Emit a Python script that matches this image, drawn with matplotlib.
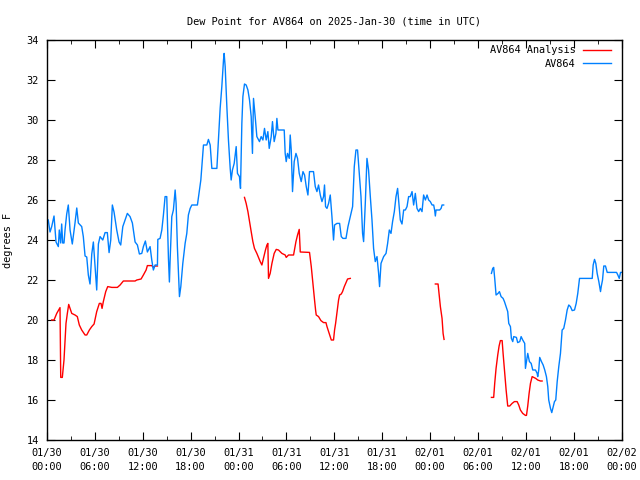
import numpy as np
import matplotlib
matplotlib.use("Agg")
import matplotlib.pyplot as plt

nan = np.nan

# hours since 2025-01-30 00:00 UTC
obs_hours = [
    0.16, 0.38, 0.59, 0.88, 1.13, 1.42, 1.54, 1.72, 1.84, 1.97, 2.13, 2.26, 2.47, 2.67, 2.89,
    3.17, 3.51, 3.73, 3.93, 4.35, 4.55, 4.77, 4.98, 5.18, 5.39, 5.61, 5.81, 6.02, 6.23, 6.44,
    6.65, 6.99, 7.28, 7.56, 7.78, 7.99, 8.19, 8.40, 8.74, 9.03, 9.24, 9.50, 9.78, 10.07, 10.41,
    10.70, 11.04, 11.33, 11.58, 11.88, 12.08, 12.33, 12.58, 12.92, 13.13, 13.33, 13.55, 13.84,
    13.89, 14.17, 14.39, 14.59, 14.80, 15.01, 15.22, 15.34, 15.43, 15.64, 15.84, 16.06, 16.18,
    16.34, 16.60, 16.77, 17.02, 17.31, 17.52, 17.72, 17.94, 18.15, 18.85, 19.10, 19.28, 19.61,
    20.03, 20.23, 20.45, 20.66, 21.29, 21.49, 21.70, 21.91, 22.12, 22.20, 22.33, 22.54, 22.74,
    22.96, 23.08, 23.24, 23.46, 23.71, 23.87, 24.12, 24.25, 24.42, 24.55, 24.75, 24.96, 25.18,
    25.38, 25.59, 25.68, 25.75, 25.88, 26.09, 26.30, 26.63, 26.84, 27.06, 27.26, 27.47, 27.68,
    27.85, 28.10, 28.26, 28.47, 28.69, 28.81, 28.94, 29.73, 29.85, 29.98, 30.14, 30.36, 30.48,
    30.61, 30.77, 30.98, 31.20, 31.40, 31.61, 31.86, 32.08, 32.28, 32.49, 32.70, 32.90, 33.40,
    33.62, 33.83, 34.03, 34.25, 34.46, 34.66, 34.78, 34.91, 35.09, 35.29, 35.50, 35.71, 35.91,
    36.04, 36.34, 36.67, 36.88, 37.09, 37.47, 37.72, 38.01, 38.30, 38.51, 38.72, 38.92, 39.14,
    39.35, 39.55, 39.68, 39.89, 40.10, 40.30, 40.52, 40.73, 40.93, 41.14, 41.36, 41.56, 41.68,
    41.86, 42.19, 42.49, 42.69, 42.90, 43.11, 43.31, 43.53, 43.74, 43.94, 44.15, 44.28, 44.49,
    44.70, 44.91, 45.12, 45.32, 45.53, 45.75, 45.95, 46.16, 46.37, 46.58, 46.79, 47.00, 47.20,
    47.42, 47.63, 47.83, 48.04, 48.26, 48.46, 48.58, 48.67, 48.76, 49.21, 49.39, 49.51, 49.71,
    52.0,
    55.70, 55.86, 55.98, 56.11, 56.28, 56.53, 56.70, 56.91, 57.16, 57.33, 57.54, 57.74, 57.87,
    58.08, 58.20, 58.37, 58.49, 58.83, 58.99, 59.25, 59.42, 59.62, 59.87, 59.96, 60.09, 60.25,
    60.46, 60.68, 60.88, 61.22, 61.43, 61.50, 61.63, 61.75, 61.97, 62.18, 62.38, 62.59, 62.76,
    62.88, 63.10, 63.26, 63.44, 63.60, 63.76, 63.94, 64.14, 64.35, 64.56, 64.76, 64.98, 65.19,
    65.39, 65.60, 65.82, 66.11, 66.32, 66.52, 66.74, 68.33, 68.45, 68.62, 68.78, 68.95, 69.16,
    69.37, 69.46, 69.62, 69.78, 69.99, 70.21, 71.38, 71.54, 71.72, 71.88, 72.0,
]
obs_dewpt = [
    25.0, 24.4, 24.67, 25.2, 23.9, 23.67, 24.5, 23.85, 24.8, 23.85, 23.85, 24.5, 25.3, 25.75, 24.5,
    23.8, 24.85, 25.6, 24.85, 24.67, 24.17, 23.2, 23.15, 22.25, 21.8, 23.3, 23.9, 22.67, 21.5, 23.8,
    24.17, 24.0, 24.37, 24.37, 23.37, 24.0, 25.75, 25.4, 24.5, 23.9, 23.75, 24.67, 25.0, 25.33, 25.17,
    24.85, 23.9, 23.75, 23.3, 23.33, 23.67, 23.95, 23.4, 23.67, 23.0, 22.5, 22.75, 22.75,
    24.03, 24.08, 24.5, 25.25, 26.17, 26.17, 23.08, 21.9, 23.0, 25.17, 25.5, 26.5, 25.83,
    23.67, 21.17, 21.67, 22.83, 23.83, 24.33, 25.25, 25.58, 25.75, 25.75, 26.5, 27.0, 28.75,
    28.75, 29.03, 28.75, 27.58, 27.58, 29.0, 30.58, 31.67, 33.0, 33.33, 32.67, 30.67, 29.0,
    27.58, 27.0, 27.5, 27.83, 28.67, 27.33, 27.17, 26.58, 29.83, 31.17, 31.8, 31.75, 31.5,
    31.0, 30.17, 29.17, 28.33, 31.08, 30.17, 29.17, 28.92, 29.17, 29.0, 29.58, 29.0, 29.42,
    28.58, 29.17, 29.92, 28.92, 29.33, 30.08, 29.5, 29.5, 28.33, 27.92, 28.33, 28.08, 29.25,
    28.5, 26.42, 27.92, 28.33, 28.08, 27.33, 26.92, 27.42, 27.25, 26.67, 26.25, 27.42, 27.42,
    26.67, 26.42, 26.75, 26.25, 25.92, 26.17, 26.75, 25.67, 25.58, 25.83, 26.25, 25.17, 24.0,
    24.75, 24.83, 24.83, 24.17, 24.08, 24.08, 24.67, 25.17, 25.67, 27.67, 28.5, 28.5, 27.33,
    26.17, 24.33, 23.92, 25.83, 28.08, 27.5, 26.17, 25.0, 23.58, 22.92, 23.17, 22.33, 21.67,
    22.83, 23.17, 23.33, 23.83, 24.5, 24.33, 24.92, 25.42, 26.17, 26.58, 25.58, 25.0, 24.8,
    25.5, 25.5, 25.67, 26.17, 26.17, 26.42, 25.75, 26.33, 25.58, 25.42, 25.58, 25.42, 26.25,
    26.0, 26.25, 26.0, 25.92, 25.75, 25.75, 25.5, 25.2, 25.5, 25.5, 25.58, 25.75, 25.75,
    nan,
    22.33, 22.58, 22.63, 22.08, 21.25, 21.33, 21.42, 21.17, 21.08, 20.92, 20.67, 20.42, 19.83,
    19.67, 19.08, 18.92, 19.17, 19.13, 18.87, 18.92, 19.17, 19.0, 18.83, 17.58, 17.92, 18.33,
    17.92, 17.83, 17.5, 17.5, 17.33, 17.17, 17.5, 18.13, 17.92, 17.75, 17.5, 17.17, 16.67,
    16.0, 15.58, 15.37, 15.67, 15.92, 16.0, 16.92, 17.67, 18.33, 19.5, 19.58, 20.0, 20.5,
    20.75, 20.67, 20.47, 20.5, 20.83, 21.33, 22.08, 22.08, 22.75, 23.03, 22.83, 22.33, 21.92,
    21.42, 21.67, 22.0, 22.7, 22.7, 22.38, 22.38, 22.25, 22.08, 22.38, 22.38,
]

ana_hours = [
    0.59, 0.88, 1.22, 1.63, 1.72, 1.92, 2.13, 2.38, 2.55, 2.72, 2.89, 3.10, 3.51, 3.80, 4.05,
    4.35, 4.77, 4.98, 5.31, 5.61, 5.90, 6.23, 6.56, 6.77, 6.90, 7.06, 7.36, 7.61, 8.12, 8.82,
    9.16, 9.57, 11.04, 11.25, 11.79, 12.08, 12.42, 12.58, 13.13, 13.33, 13.55, 13.84,
    19.0,
    24.75, 24.96, 25.18, 25.38, 25.59, 25.80, 26.00, 26.30, 26.56, 26.72, 26.93, 27.13, 27.38,
    27.56, 27.68, 27.76, 27.97, 28.19, 28.47, 28.73, 29.01, 29.44, 29.85, 29.98, 30.27, 30.90,
    31.02, 31.20, 31.40, 31.61, 31.74, 32.90, 33.12, 33.28, 33.40, 33.53, 33.66, 33.74, 34.03,
    34.33, 34.66, 34.96, 35.09, 35.29, 35.50, 35.63, 35.91, 36.04, 36.17, 36.34, 36.54, 36.67,
    36.88, 37.04, 37.26, 37.47, 37.67, 38.01,
    43.0,
    48.67, 49.01, 49.09, 49.30, 49.51, 49.64, 49.76,
    52.0,
    55.70, 55.98, 56.11, 56.28, 56.49, 56.66, 56.82, 57.04, 57.16, 57.33, 57.54, 57.74, 57.99,
    58.29, 58.58, 58.92, 59.12, 59.33, 59.62, 59.96, 60.09, 60.25, 60.42, 60.59, 60.80, 61.00,
    61.25, 61.50, 61.84, 62.05,
]
ana_dewpt = [
    20.0, 20.0, 20.33, 20.62, 17.13, 17.13, 18.0, 19.83, 20.33, 20.78, 20.58, 20.33, 20.25, 20.17, 19.75,
    19.5, 19.25, 19.25, 19.5, 19.67, 19.8, 20.42, 20.83, 20.83, 20.58, 20.92, 21.42, 21.67, 21.63, 21.63,
    21.75, 21.95, 21.95, 22.0, 22.05, 22.25, 22.5, 22.72, 22.72, 22.63, 22.7, 22.7,
    nan,
    26.13, 25.83, 25.42, 24.92, 24.42, 23.92, 23.58, 23.33, 23.08, 22.92, 22.75, 23.08, 23.5,
    23.75, 23.83, 22.08, 22.33, 22.83, 23.33, 23.53, 23.5, 23.33, 23.25, 23.13, 23.25, 23.25,
    23.53, 23.92, 24.25, 24.53, 23.4, 23.38, 22.67, 22.0, 21.5, 21.0, 20.5, 20.25, 20.17,
    19.97, 19.87, 19.87, 19.67, 19.42, 19.17, 19.0, 19.0, 19.5, 19.83, 20.37, 21.0, 21.25,
    21.3, 21.42, 21.67, 21.87, 22.05, 22.08,
    nan,
    21.8, 21.8, 21.5, 20.67, 20.08, 19.33, 19.03,
    nan,
    16.13, 16.13, 16.83, 17.58, 18.25, 18.7, 18.97, 18.97, 18.33, 17.5, 16.5, 15.7, 15.7,
    15.83, 15.92, 15.92, 15.75, 15.5, 15.33, 15.23, 15.23, 15.7, 16.33, 16.83, 17.17, 17.13,
    17.08, 17.0, 16.95, 16.95,
]

tick_hours = list(range(0, 73, 6))
tick_labels = ['01/30\n00:00', '01/30\n06:00', '01/30\n12:00', '01/30\n18:00',
               '01/31\n00:00', '01/31\n06:00', '01/31\n12:00', '01/31\n18:00',
               '02/01\n00:00', '02/01\n06:00', '02/01\n12:00', '02/01\n18:00',
               '02/02\n00:00']

plt.rcParams['font.family'] = 'DejaVu Sans Mono'
plt.rcParams['font.size'] = 7.4

fig = plt.figure(figsize=(6.4, 4.8), dpi=100)
ax = fig.add_axes([47/640, 40/480, 574.5/640, 400/480])

ax.plot(ana_hours, ana_dewpt, color='#ff0000', lw=1, label='AV864 Analysis')
ax.plot(obs_hours, obs_dewpt, color='#0080ff', lw=1, label='AV864')

ax.set_xlim(0, 72)
ax.set_ylim(14, 34)
ax.set_xticks(tick_hours)
ax.set_xticklabels(tick_labels, linespacing=1.5)
ax.set_xticks(np.arange(3, 72, 6), minor=True)
ax.set_yticks(np.arange(14, 35, 2))
ax.tick_params(which='both', direction='in', top=True, right=True, color='black')
ax.tick_params(which='major', length=6, pad=6)
ax.tick_params(which='minor', length=3)
for s in ax.spines.values():
    s.set_linewidth(1)

ax.set_ylabel('degrees F', labelpad=10)
ax.set_title('Dew Point for AV864 on 2025-Jan-30 (time in UTC)', fontsize=7.4, pad=11)

ax.legend(loc='upper right', bbox_to_anchor=(1.0, 1.012), frameon=False, markerfirst=False,
          handlelength=2.7, borderaxespad=0.6, labelspacing=0.3, handletextpad=0.8)

fig.savefig('out.png', dpi=100)
